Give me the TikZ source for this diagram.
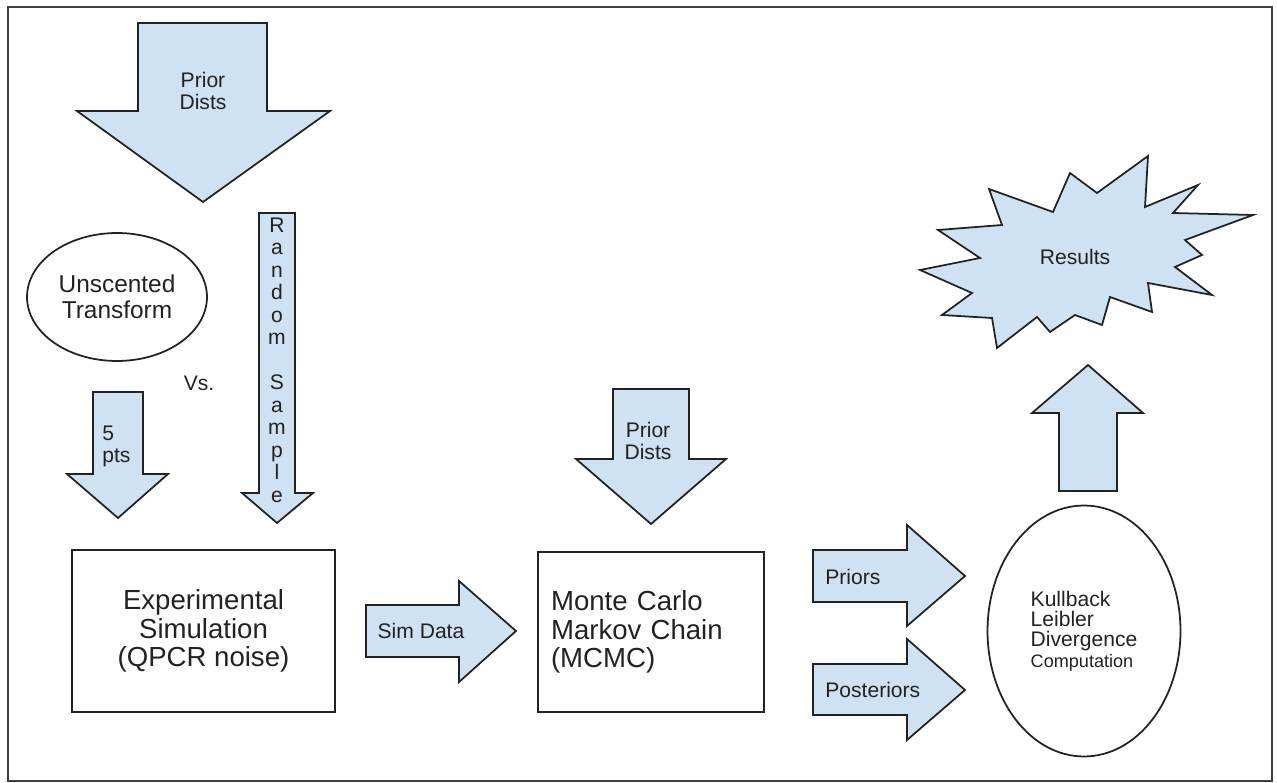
\documentclass[tikz,border=0pt]{standalone}
\usepackage{fontspec}
\setmainfont{Liberation Sans}
\usetikzlibrary{shapes.geometric}
\definecolor{boxblue}{RGB}{207,226,243}
\definecolor{inkgray}{RGB}{34,34,34}
\begin{document}
\begin{tikzpicture}[x=0.02cm,y=-0.02cm,
  blk/.style={draw=inkgray,fill=boxblue,line width=1pt,line join=miter},
  outline/.style={draw=inkgray,line width=1pt},
  lbl/.style={text=inkgray,font=\fontsize{12}{12.5}\selectfont,align=center,inner sep=0pt},
  big/.style={text=inkgray,font=\fontsize{15.7}{16.4}\selectfont,inner sep=0pt}]
\useasboundingbox (0,0) rectangle (1277,783);
\draw[line width=1.2pt,black!75] (8,7) rectangle (1272,781);
% prior dists (top)
\draw[blk] (138,23) -- (267,23) -- (267,111) -- (330,111) -- (203,202) -- (77,111) -- (138,111) -- cycle;
\node[lbl] (pdtop) at (203,91) {Prior\\Dists};
% unscented transform vs random sample
\node[outline,ellipse,minimum width=3.6cm,minimum height=2.56cm,inner sep=0pt,align=center,
  text=inkgray,font=\fontsize{13.9}{14.7}\selectfont] (ut) at (117,297) {Unscented\\Transform};
\node[lbl] (vs) at (199,383) {Vs.};
\draw[blk] (93,392) -- (143,392) -- (143,474) -- (168,474) -- (118,518) -- (67,474) -- (93,474) -- cycle;
\node[lbl,align=left,anchor=west] (pts) at (102,446) {5\\pts};
\draw[blk] (259,213) -- (295,213) -- (295,493) -- (313,493) -- (277,523) -- (242,493) -- (259,493) -- cycle;
\node[lbl,font=\fontsize{12}{12.8}\selectfont] (rs) at (277,360)
  {R\\a\\n\\d\\o\\m\\\mbox{}\\S\\a\\m\\p\\l\\e};
% simulation and mcmc
\node[outline,big,minimum width=5.26cm,minimum height=3.24cm,align=center] (exp) at (203.5,631)
  {Experimental\\Simulation\\(QPCR noise)};
\draw[blk] (366,605) -- (459,605) -- (459,581) -- (516,631) -- (459,682) -- (459,657) -- (366,657) -- cycle;
\node[lbl] (sim) at (421,631) {Sim Data};
\node[outline,big,minimum width=4.52cm,minimum height=3.2cm,text width=4cm,align=left] (mcmc) at (651,632)
  {Monte Carlo\\Markov Chain\\(MCMC)};
\draw[blk] (613,389) -- (689,389) -- (689,459) -- (726,459) -- (651,524) -- (576,459) -- (613,459) -- cycle;
\node[lbl] (pdmid) at (648,441) {Prior\\Dists};
% priors / posteriors into KL
\draw[blk] (813,550) -- (907,550) -- (907,525) -- (965,576) -- (907,626) -- (907,602) -- (813,602) -- cycle;
\node[lbl,anchor=west] (pri) at (825,577) {Priors};
\draw[blk] (813,664) -- (907,664) -- (907,639) -- (965,690) -- (907,740) -- (907,715) -- (813,715) -- cycle;
\node[lbl,anchor=west] (post) at (825,690) {Posteriors};
\node[outline,ellipse,minimum width=3.86cm,minimum height=5.02cm,inner sep=0pt,align=left,
  text=inkgray,font=\fontsize{12}{11.6}\selectfont] (kl) at (1084,631)
  {Kullback\\Leibler\\Divergence\\{\fontsize{10.3}{11.6}\selectfont Computation}};
% results
\draw[blk] (1059,491) -- (1059,413) -- (1032,413) -- (1088,365) -- (1143,413) -- (1117,413) -- (1117,491) -- cycle;
\draw[blk] (920,270) -- (980,258) -- (938,230) -- (1002,225) -- (989,189) -- (1053,212) -- (1070,173)
  -- (1097,193) -- (1148,156) -- (1145,207) -- (1198,185) -- (1173,213) -- (1253,215) -- (1185,240)
  -- (1202,255) -- (1175,267) -- (1212,295) -- (1148,283) -- (1152,312) -- (1110,297) -- (1102,325)
  -- (1075,315) -- (1050,332) -- (1037,317) -- (997,348) -- (992,318) -- (942,315) -- (972,293) -- cycle;
\node[lbl] (res) at (1075,257) {Results};
\end{tikzpicture}
\end{document}
